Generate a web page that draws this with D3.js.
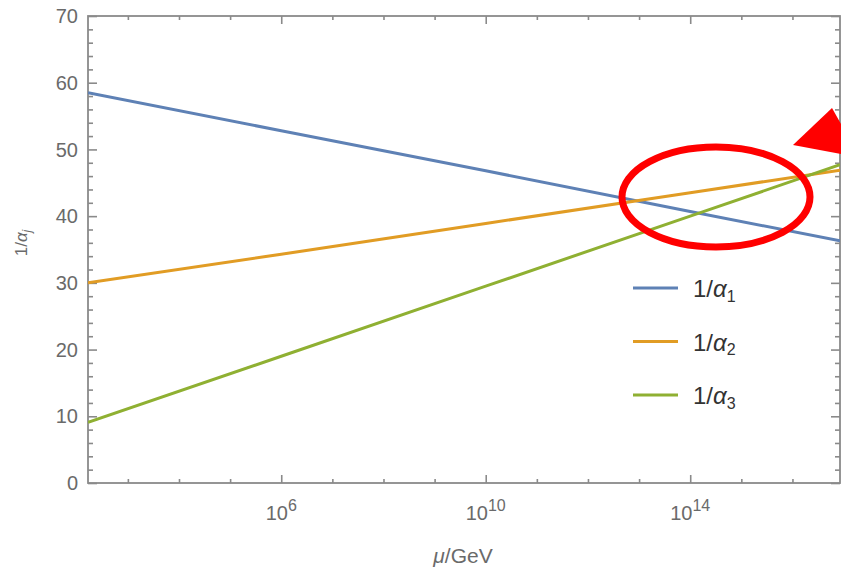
<!DOCTYPE html>
<html>
<head>
<meta charset="utf-8">
<script src="https://cdn.jsdelivr.net/npm/d3@7"></script>
<style>
  body { margin: 0; background: #fff; }
  text { font-family: "Liberation Sans", Arial, sans-serif; }
</style>
</head>
<body>
<div id="chart"></div>
<script>
// scale mu in GeV (log10), values read at the ends and at the labelled decades
let muExp = [2.22, 6, 10, 14, 16.93];
let alpha1 = [58.5, 52.8, 46.8, 40.7, 36.3];
let alpha2 = [30.0, 34.3, 38.9, 43.5, 46.9];
let alpha3 = [9.1, 19.0, 29.5, 40.0, 47.7];

let seriesNames = ["1", "2", "3"];
let colors = ["#5E81B5", "#E19C24", "#8FB032"];

let yMajor = [0, 10, 20, 30, 40, 50, 60, 70];
let xLabelExp = [6, 10, 14];

let svgWidth = 841;
let svgHeight = 567;

let margin = { top: 16, right: 1, bottom: 84, left: 88 };
let width = svgWidth - margin.left - margin.right;
let height = svgHeight - margin.top - margin.bottom;

let svg = d3.select("#chart")
    .append("svg")
    .attr("width", svgWidth)
    .attr("height", svgHeight);

let chartGroup = svg.append("g")
    .attr("transform", `translate(${margin.left}, ${margin.top})`);

let x = d3.scaleLog()
    .domain([Math.pow(10, muExp[0]), Math.pow(10, muExp[muExp.length - 1])])
    .range([0, width]);

let y = d3.scaleLinear()
    .domain([0, 70])
    .range([height, 0]);

let minorX = d3.range(3, 17).map(e => Math.pow(10, e)).filter(v => xLabelExp.indexOf(Math.round(Math.log10(v))) < 0);
let majorX = xLabelExp.map(e => Math.pow(10, e));
let minorY = d3.range(0, 71, 2).filter(v => v % 10 !== 0);

let axisColor = "#8a8a8a";

function styleAxis(g) {
    g.select(".domain").remove();
    g.selectAll("line").attr("stroke", axisColor).attr("stroke-width", 1.6);
    g.selectAll("text").remove();
}

// bottom + top ticks
chartGroup.append("g").attr("transform", `translate(0, ${height})`)
    .call(d3.axisBottom(x).tickValues(majorX).tickSize(-8)).call(styleAxis);
chartGroup.append("g").attr("transform", `translate(0, ${height})`)
    .call(d3.axisBottom(x).tickValues(minorX).tickSize(-4)).call(styleAxis);
chartGroup.append("g")
    .call(d3.axisTop(x).tickValues(majorX).tickSize(-8)).call(styleAxis);
chartGroup.append("g")
    .call(d3.axisTop(x).tickValues(minorX).tickSize(-4)).call(styleAxis);

// left + right ticks
chartGroup.append("g")
    .call(d3.axisLeft(y).tickValues(yMajor).tickSize(-9)).call(styleAxis);
chartGroup.append("g")
    .call(d3.axisLeft(y).tickValues(minorY).tickSize(-5)).call(styleAxis);
chartGroup.append("g").attr("transform", `translate(${width}, 0)`)
    .call(d3.axisRight(y).tickValues(yMajor).tickSize(-9)).call(styleAxis);
chartGroup.append("g").attr("transform", `translate(${width}, 0)`)
    .call(d3.axisRight(y).tickValues(minorY).tickSize(-5)).call(styleAxis);

// frame
chartGroup.append("rect")
    .attr("width", width)
    .attr("height", height)
    .attr("fill", "none")
    .attr("stroke", axisColor)
    .attr("stroke-width", 1.8);

// y tick labels
chartGroup.selectAll(".ylab")
    .data(yMajor)
    .enter()
    .append("text")
    .attr("x", -10)
    .attr("y", d => y(d))
    .attr("dy", "0.36em")
    .attr("text-anchor", "end")
    .attr("font-size", "20px")
    .attr("fill", "#6a6a6a")
    .text(d => d);

// x tick labels 10^n
let xl = chartGroup.selectAll(".xlab")
    .data(xLabelExp)
    .enter()
    .append("text")
    .attr("x", d => x(Math.pow(10, d)))
    .attr("y", height + 37)
    .attr("text-anchor", "middle")
    .attr("font-size", "20px")
    .attr("fill", "#6a6a6a");
xl.append("tspan").text("10");
xl.append("tspan").attr("dy", "-0.55em").attr("font-size", "16px").text(d => d);

// axis titles
let xt = chartGroup.append("text")
    .attr("x", 375)
    .attr("y", height + 80)
    .attr("text-anchor", "middle")
    .attr("font-size", "21px")
    .attr("fill", "#6a6a6a");
xt.append("tspan").attr("font-style", "italic").text("μ");
xt.append("tspan").text("/GeV");

let yt = chartGroup.append("text")
    .attr("transform", `translate(${-61}, ${243 - margin.top}) rotate(-90)`)
    .attr("text-anchor", "middle")
    .attr("font-size", "17px")
    .attr("fill", "#6a6a6a");
yt.append("tspan").text("1/");
yt.append("tspan").attr("font-style", "italic").text("α");
yt.append("tspan").attr("font-style", "italic").attr("font-size", "12px").attr("dy", "0.3em").text("j");

// lines
chartGroup.append("clipPath").attr("id", "clip")
    .append("rect").attr("width", width).attr("height", height);

let line = d3.line()
    .x(d => x(Math.pow(10, d[0])))
    .y(d => y(d[1]));

[alpha1, alpha2, alpha3].forEach(function (vals, i) {
    chartGroup.append("path")
        .datum(muExp.map((e, j) => [e, vals[j]]))
        .attr("clip-path", "url(#clip)")
        .attr("fill", "none")
        .attr("stroke", colors[i])
        .attr("stroke-width", 3)
        .attr("d", line);
});

// legend
let legend = chartGroup.selectAll(".legend")
    .data(seriesNames)
    .enter()
    .append("g")
    .attr("transform", (d, i) => `translate(${633 - margin.left}, ${288 - margin.top + i * 53.5})`);

legend.append("line")
    .attr("x1", 0).attr("x2", 45)
    .attr("stroke", (d, i) => colors[i])
    .attr("stroke-width", 3);

let lt = legend.append("text")
    .attr("x", 60)
    .attr("y", 9)
    .attr("font-size", "24px")
    .attr("fill", "#333");
lt.append("tspan").text("1/");
lt.append("tspan").attr("font-style", "italic").text("α");
lt.append("tspan").attr("font-size", "16px").attr("dy", "0.3em").text(d => d);

// red annotation
svg.append("ellipse")
    .attr("cx", 716)
    .attr("cy", 197)
    .attr("rx", 94)
    .attr("ry", 50)
    .attr("fill", "none")
    .attr("stroke", "#ff0000")
    .attr("stroke-width", 7);

svg.append("polygon")
    .attr("points", "793,145 832,108 841,124 841,154")
    .attr("fill", "#ff0000");
</script>
</body>
</html>
